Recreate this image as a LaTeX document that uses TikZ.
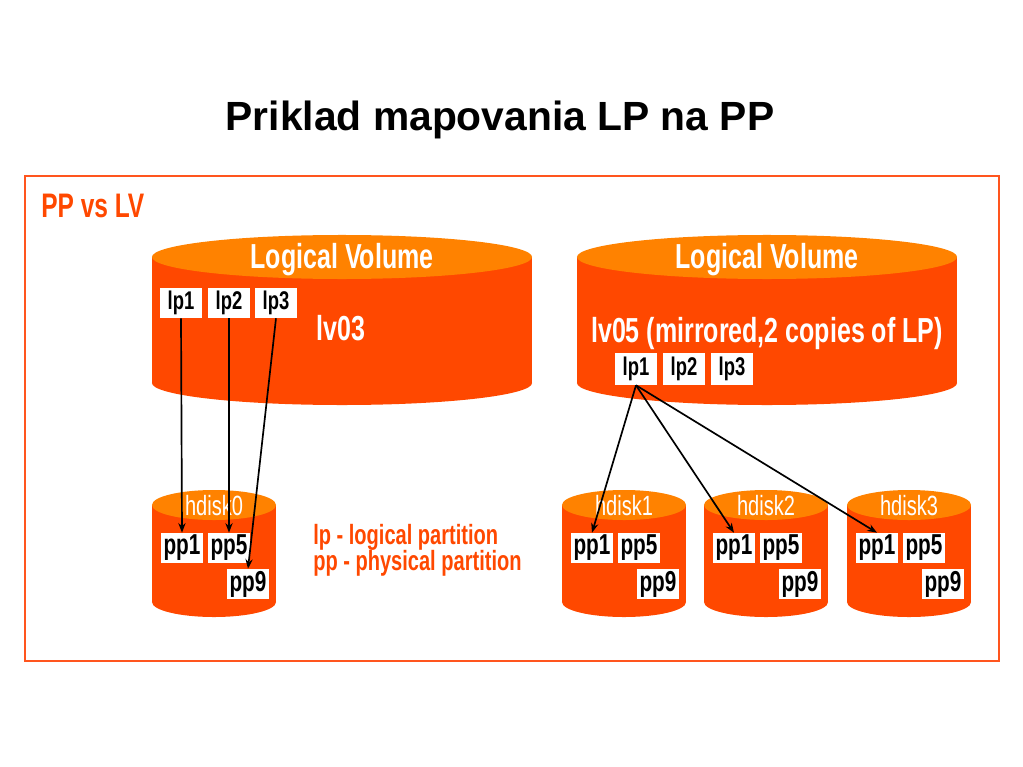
\documentclass[tikz,border=0pt]{standalone}
\usepackage{fontspec}
\setmainfont{Liberation Sans}
\newfontfamily\narrowfont[FakeStretch=0.72]{Liberation Sans}
\usetikzlibrary{arrows.meta, positioning}
\definecolor{lvred}{RGB}{255,72,0}
\definecolor{lvtop}{RGB}{255,130,0}
\definecolor{framered}{RGB}{255,85,30}

\begin{document}
\begin{tikzpicture}[
        x=0.025cm, y=-0.025cm,
        arr/.style={-{Stealth[length=2.4mm, width=1.8mm]}, line width=1.2pt, black},
        lpbox/.style={fill=white, inner sep=0pt, minimum width=1.07cm, minimum height=0.75cm,
            font=\narrowfont\bfseries\fontsize{18.2}{20}\selectfont},
        ppbox/.style={lpbox, minimum width=1.05cm, font=\narrowfont\bfseries\fontsize{20.5}{22}\selectfont},
        whitelbl/.style={text=white, anchor=base, inner sep=0pt,
            font=\narrowfont\bfseries\fontsize{24.7}{28}\selectfont},
        disklbl/.style={text=white, anchor=base, inner sep=0pt, font=\narrowfont\fontsize{19.8}{22}\selectfont},
        redtxt/.style={text=lvred, anchor=base west, inner sep=0pt,
            font=\narrowfont\bfseries\fontsize{19.8}{22}\selectfont},
    ]

    \useasboundingbox (0,0) rectangle (1023,767);

    %% ---- Title and frame ----
    \node[anchor=base, inner sep=0pt, font=\bfseries\fontsize{29}{34}\selectfont] (title) at (500,131)
        {Priklad mapovania LP na PP};
    \draw[framered, line width=1.4pt] (25,176) rectangle (999,661);
    \node[redtxt, font=\narrowfont\bfseries\fontsize{24.2}{28}\selectfont] (ppvslv) at (41,218) {PP vs LV};

    %% ---- Logical volumes ----
    \foreach \xa in {152, 577} {
        \fill[lvred] (\xa,257) rectangle (\xa+380,383);
        \fill[lvred] (\xa+190,383) ellipse[x radius=4.75cm, y radius=0.55cm];
        \fill[lvtop] (\xa+190,257) ellipse[x radius=4.75cm, y radius=0.55cm];
        \node[whitelbl] (lvname\xa) at (\xa+190,268) {Logical Volume};
    }
    \node[whitelbl] (lv03) at (341,340) {lv03};
    \node[whitelbl] (lv05) at (767,342) {lv05 (mirrored,2 copies of LP)};

    % logical partitions
    \foreach \n/\px in {1/181, 2/229, 3/276} {
        \node[lpbox] (a-lp\n) at (\px,303) {lp\n};
    }
    \foreach \n/\px in {1/636, 2/684, 3/732} {
        \node[lpbox, minimum height=0.8cm] (b-lp\n) at (\px,369) {lp\n};
    }

    %% ---- Physical disks ----
    \foreach \d/\xa in {0/152, 1/562, 2/704, 3/847} {
        \fill[lvred] (\xa,505) rectangle (\xa+124,602);
        \fill[lvred] (\xa+62,602) ellipse[x radius=1.55cm, y radius=0.375cm];
        \fill[lvtop] (\xa+62,505) ellipse[x radius=1.55cm, y radius=0.375cm];
        \node[disklbl] (hd\d) at (\xa+62,515) {hdisk\d};
        \node[ppbox] (hd\d-pp1) at (\xa+30,548) {pp1};
        \node[ppbox] (hd\d-pp5) at (\xa+77,548) {pp5};
        \node[ppbox] (hd\d-pp9) at (\xa+96,584) {pp9};
    }

    %% ---- Legend ----
    \node[redtxt] (leglp) at (313,544) {lp - logical partition};
    \node[redtxt] (legpp) at (313,570) {pp - physical partition};

    %% ---- Mapping arrows ----
    \draw[arr] (a-lp1.south) -- (hd0-pp1.north);
    \draw[arr] (a-lp2.south) -- (hd0-pp5.north);
    \draw[arr] (a-lp3.south) -- (hd0-pp9.north);
    \foreach \d in {1, 2, 3} {
        \draw[arr] (b-lp1.south) -- (hd\d-pp1.north);
    }

\end{tikzpicture}
\end{document}
